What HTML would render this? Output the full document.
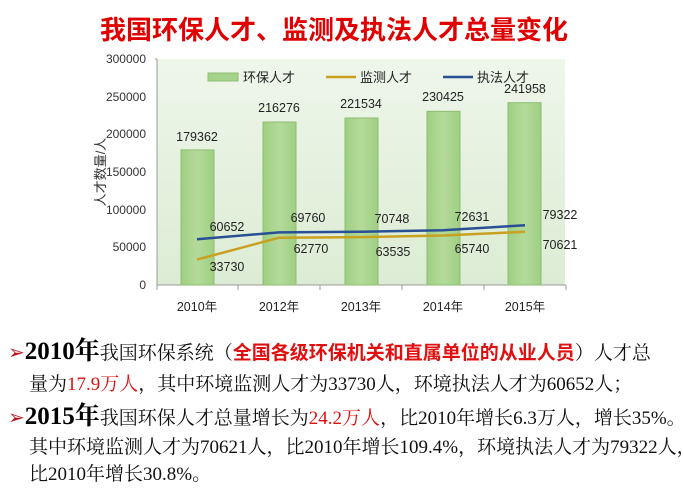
<!DOCTYPE html>
<html><head><meta charset="utf-8"><style>
body{margin:0;width:684px;height:500px;background:#fff;overflow:hidden;position:relative;font-family:"Liberation Serif","Noto Serif CJK SC",serif}
.t{position:absolute;left:0;white-space:nowrap;font-size:19px;line-height:24px;color:#111}
.b{font-weight:bold;font-size:25px;color:#000}
.r{color:#e01010}
.ar{color:#c0141c;font-size:20px}
</style></head><body>
<svg width="684" height="320" style="position:absolute;left:0;top:0" font-family="'Liberation Sans','Noto Sans CJK SC',sans-serif">
<defs><linearGradient id="g" x1="0" y1="0" x2="0" y2="1"><stop offset="0" stop-color="#eef6ea"/><stop offset="1" stop-color="#dcecd4"/></linearGradient>
<linearGradient id="bar" x1="0" x2="1"><stop offset="0" stop-color="#9fcf82"/><stop offset="0.5" stop-color="#b4da9b"/><stop offset="1" stop-color="#9fcf82"/></linearGradient></defs>
<text x="334" y="39" text-anchor="middle" font-size="26" font-weight="bold" fill="#e00000" font-family="'Noto Sans CJK SC',sans-serif">我国环保人才、监测及执法人才总量变化</text>
<rect x="157" y="59" width="408" height="226" fill="url(#g)"/>
<g font-size="12" fill="#333" text-anchor="end">
<text x="146" y="63">300000</text><text x="146" y="101">250000</text><text x="146" y="138">200000</text><text x="146" y="176">150000</text><text x="146" y="214">100000</text><text x="146" y="251">50000</text><text x="146" y="289">0</text></g>
<g stroke="#999"><line x1="155" y1="59" x2="157" y2="59"/><line x1="157" y1="59" x2="157" y2="285"/><line x1="157" y1="285" x2="566" y2="285"/>
<line x1="157" y1="285" x2="157" y2="290"/><line x1="238" y1="285" x2="238" y2="290"/><line x1="320" y1="285" x2="320" y2="290"/><line x1="402" y1="285" x2="402" y2="290"/><line x1="484" y1="285" x2="484" y2="290"/><line x1="566" y1="285" x2="566" y2="290"/></g>
<text transform="translate(105,172) rotate(-90)" font-size="13" fill="#333" text-anchor="middle">人才数量/人</text>
<g fill="url(#bar)" stroke="#8ebd72">
<rect x="181" y="149.9" width="33" height="135.1"/><rect x="263" y="122" width="33" height="163"/><rect x="345" y="118" width="33" height="167"/><rect x="427" y="111.3" width="33" height="173.7"/><rect x="508" y="102.7" width="33" height="182.3"/></g>
<polyline points="197,259.6 279,237.7 361,237.1 443,235.5 525,231.8" fill="none" stroke="#c9a020" stroke-width="2.5"/>
<polyline points="197,239.3 279,232.4 361,231.7 443,230.3 525,225.2" fill="none" stroke="#2a4f94" stroke-width="2.5"/>
<g font-size="12.5" fill="#222" text-anchor="middle">
<text x="197" y="141">179362</text><text x="279" y="112">216276</text><text x="361" y="108">221534</text><text x="443" y="101">230425</text><text x="525" y="93">241958</text>
<text x="227" y="231">60652</text><text x="308" y="222">69760</text><text x="392" y="223">70748</text><text x="472" y="221">72631</text><text x="560" y="219">79322</text>
<text x="227" y="271">33730</text><text x="311" y="253">62770</text><text x="393" y="256">63535</text><text x="472" y="253">65740</text><text x="560" y="249">70621</text>
<text x="197" y="311">2010年</text><text x="279" y="311">2012年</text><text x="361" y="311">2013年</text><text x="443" y="311">2014年</text><text x="525" y="311">2015年</text></g>
<rect x="208" y="73" width="30" height="8" fill="#a6d38c" stroke="#8ebd72"/>
<text x="243" y="82" font-size="13" fill="#222">环保人才</text>
<line x1="326" y1="77" x2="356" y2="77" stroke="#c9a020" stroke-width="2.5"/>
<text x="360" y="82" font-size="13" fill="#222">监测人才</text>
<line x1="443" y1="77" x2="473" y2="77" stroke="#2a4f94" stroke-width="2.5"/>
<text x="477" y="82" font-size="13" fill="#222">执法人才</text>
</svg>
<div class="t" style="top:340px;left:8px"><span class="ar">➢</span><span class="b">2010年</span>我国环保系统（<span class="r" style="font-weight:bold;font-family:'Noto Sans CJK SC',sans-serif">全国各级环保机关和直属单位的从业人员</span>）人才总</div>
<div class="t" style="top:373px;left:29px">量为<span class="r">17.9万人</span>，其中环境监测人才为33730人，环境执法人才为60652人；</div>
<div class="t" style="top:405px;left:8px"><span class="ar">➢</span><span class="b">2015年</span>我国环保人才总量增长为<span class="r">24.2万人</span>，比2010年增长6.3万人，增长35%。</div>
<div class="t" style="top:436px;left:29px">其中环境监测人才为70621人，比2010年增长109.4%，环境执法人才为79322人，</div>
<div class="t" style="top:463px;left:29px">比2010年增长30.8%。</div>
</body></html>
